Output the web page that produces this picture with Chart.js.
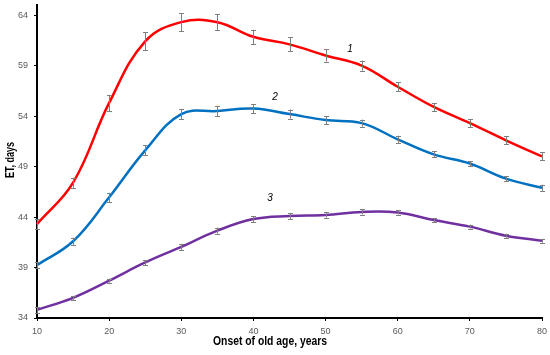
<!DOCTYPE html>
<html><head><meta charset="utf-8">
<script src="https://cdn.jsdelivr.net/npm/chart.js@4.4.1/dist/chart.umd.min.js"></script>
<style>html,body{margin:0;padding:0;background:#fff}#wrap{width:550px;height:355px}</style>
</head><body><div id="wrap"><canvas id="c" width="550" height="355"></canvas></div>
<script>
const ages = [10,15,20,25,30,35,40,45,50,55,60,65,70,75,80];
const series1 = [43.3,47.4,55.3,61.4,63.3,63.3,61.85,61.1,60.0,59.0,56.9,54.9,53.3,51.6,50.0];
const series2 = [39.25,41.6,45.95,50.6,54.2,54.5,54.75,54.2,53.6,53.3,51.7,50.2,49.3,47.8,46.9];
const series3 = [34.8,36.0,37.7,39.5,41.05,42.65,43.8,44.1,44.2,44.5,44.45,43.7,43.05,42.15,41.65];
const err1 = [0.5,0.5,0.8,0.9,0.9,0.8,0.7,0.7,0.6,0.5,0.45,0.4,0.4,0.4,0.4];
const err2 = [0.3,0.35,0.45,0.5,0.5,0.5,0.45,0.45,0.4,0.35,0.35,0.3,0.25,0.25,0.3];
const err3 = [0.3,0.2,0.2,0.25,0.3,0.3,0.3,0.3,0.25,0.25,0.2,0.2,0.2,0.2,0.2];
const seriesNames = ["1","2","3"];
const labelPos = [[53.4,60.6],[43,55.9],[42.3,45.9]];
const yTicks = [34,39,44,49,54,59,64];
const xTicks = [10,20,30,40,50,60,70,80];
const xTitle = "Onset of old age, years";
const yTitle = "ET, days";

const colors = ['#FF0000','#0070C0','#7030A0'];
const allSeries = [series1,series2,series3];
const allErr = [err1,err2,err3];

const errPlugin = {
  id:'err',
  afterDatasetsDraw(chart){
    const ctx = chart.ctx, xs = chart.scales.x, ys = chart.scales.y;
    ctx.save();
    ctx.strokeStyle = '#7f7f7f'; ctx.lineWidth = 1;
    allSeries.forEach((s,i)=>{
      s.forEach((v,j)=>{
        const px = Math.round(xs.getPixelForValue(ages[j]))+0.5;
        const y1 = ys.getPixelForValue(v+allErr[i][j]);
        const y2 = ys.getPixelForValue(v-allErr[i][j]);
        ctx.beginPath();
        ctx.moveTo(px,y1); ctx.lineTo(px,y2);
        ctx.moveTo(px-2.5,Math.round(y1)+0.5); ctx.lineTo(px+2.5,Math.round(y1)+0.5);
        ctx.moveTo(px-2.5,Math.round(y2)+0.5); ctx.lineTo(px+2.5,Math.round(y2)+0.5);
        ctx.stroke();
      });
    });
    ctx.fillStyle = '#000';
    ctx.font = 'italic 10px "Liberation Sans", Arial, sans-serif';
    ctx.textAlign = 'center'; ctx.textBaseline = 'middle';
    seriesNames.forEach((n,i)=>{
      ctx.fillText(n, xs.getPixelForValue(labelPos[i][0]), ys.getPixelForValue(labelPos[i][1]));
    });
    ctx.font = 'bold 12px "Liberation Sans", Arial, sans-serif';
    ctx.fillText(xTitle, 270, 342, 114);
    ctx.translate(11, 160);
    ctx.rotate(-Math.PI/2);
    ctx.fillText(yTitle, 0, 0, 36);
    ctx.restore();
  }
};

new Chart(document.getElementById('c'), {
  type:'line',
  data:{
    datasets: allSeries.map((s,i)=>({
      label: seriesNames[i],
      data: s.map((v,j)=>({x:ages[j], y:v})),
      borderColor: colors[i],
      backgroundColor: colors[i],
      borderWidth: 2.5,
      pointRadius: 0,
      tension: 0.4,
      fill: false,
      clip: false
    }))
  },
  options:{
    responsive:false,
    animation:false,
    layout:{padding:{left:0,right:8,top:5,bottom:0}},
    plugins:{legend:{display:false},tooltip:{enabled:false}},
    scales:{
      x:{
        type:'linear', min:10, max:80,
        afterBuildTicks: a => { a.ticks = xTicks.map(v=>({value:v})); },
        afterFit: a => { a.height = 37; a.paddingLeft = 0; a.paddingRight = 0; },
        border:{color:'#000', width:2},
        grid:{display:true, drawOnChartArea:false, tickLength:3, color:'#000'},
        ticks:{color:'#595959', font:{family:'"Liberation Sans", Arial, sans-serif', size:9}, padding:5, maxRotation:0}
      },
      y:{
        type:'linear', min:34, max:65,
        afterBuildTicks: a => { a.ticks = yTicks.map(v=>({value:v})); },
        afterFit: a => { a.width = 37; a.paddingTop = 0; a.paddingBottom = 0; },
        border:{color:'#000', width:2},
        grid:{display:true, drawOnChartArea:false, tickLength:3, color:'#000'},
        ticks:{color:'#595959', font:{family:'"Liberation Sans", Arial, sans-serif', size:9}, padding:6}
      }
    }
  },
  plugins:[errPlugin]
});
</script></body></html>
